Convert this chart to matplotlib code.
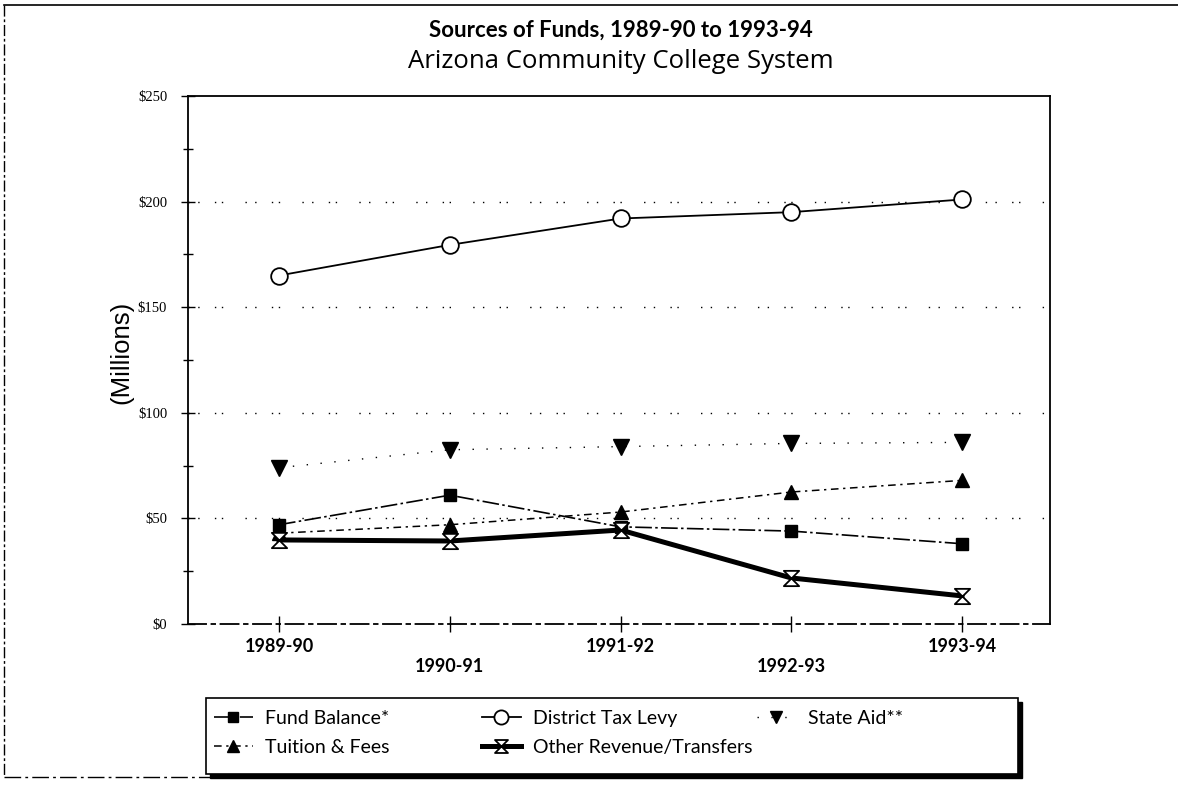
import matplotlib
matplotlib.use("Agg")
import matplotlib.pyplot as plt
from matplotlib.path import Path
from matplotlib.lines import Line2D
from matplotlib.patches import Rectangle
import numpy as np

years = ["1989-90", "1990-91", "1991-92", "1992-93", "1993-94"]
fund_balance = [47, 61, 46, 44, 38]
district_tax_levy = [165, 179.5, 192, 195, 201]
state_aid = [74, 82.5, 84, 85.5, 86]
tuition_fees = [43, 47, 53, 62.5, 68]
other_revenue = [39.8, 39.3, 44.5, 21.8, 13.3]

y_ticks = [0, 50, 100, 150, 200, 250]
y_tick_labels = ["$0", "$50", "$100", "$150", "$200", "$250"]

HUM = ["Lato", "DejaVu Sans"]

W, H = 1178, 789
fig = plt.figure(figsize=(W / 100, H / 100), dpi=100)
ax = fig.add_axes([188 / W, 1 - 624 / H, (1050 - 188) / W, (624 - 96) / H])

x = np.arange(len(years))

hourglass = Path([(-1, 1), (1, 1), (-1, -1), (1, -1), (-1, 1)],
                 [Path.MOVETO, Path.LINETO, Path.LINETO, Path.LINETO, Path.CLOSEPOLY])

# sparse dotted gridlines
for gy in [50, 100, 150, 200]:
    ax.axhline(gy, color="black", lw=1.0, ls=(0, (1, 6, 1, 11, 1, 4, 1, 16)), zorder=1)

l_sa, = ax.plot(x, state_aid, color="black", lw=1.0, ls=(0, (1, 9)), marker="v",
                markersize=11, markerfacecolor="black", markeredgecolor="black", zorder=3)
l_tf, = ax.plot(x, tuition_fees, color="black", lw=1.1, ls=(0, (5, 3, 1.5, 3)), marker="^",
                markersize=10, markerfacecolor="black", markeredgecolor="black", zorder=3)
l_dt, = ax.plot(x, district_tax_levy, color="black", lw=1.3, ls="-", marker="o",
                markersize=12, markerfacecolor="white", markeredgecolor="black",
                markeredgewidth=1.3, zorder=4)
l_fb, = ax.plot(x, fund_balance, color="black", lw=1.2, ls=(0, (10, 2, 1.5, 2)), marker="s",
                markersize=9, markerfacecolor="black", markeredgecolor="black", zorder=4)
l_or, = ax.plot(x, other_revenue, color="black", lw=3.6, ls="-", marker=hourglass,
                markersize=11, markerfacecolor="white", markeredgecolor="black",
                markeredgewidth=1.3, zorder=5)

ax.set_xlim(-0.533, 4.515)
ax.set_ylim(0, 250)

ax.set_yticks(y_ticks)
ax.set_yticklabels(y_tick_labels, family=["Liberation Serif", "DejaVu Serif"], fontsize=10.5)
ax.set_yticks(np.arange(25, 250, 50), minor=True)
ax.tick_params(axis="y", which="major", direction="inout", length=10, width=1, pad=10)
ax.tick_params(axis="y", which="minor", direction="inout", length=7, width=1)

ax.set_xticks(x)
ax.set_xticklabels([y if i % 2 == 0 else "\n" + y for i, y in enumerate(years)],
                   family=HUM, fontweight="bold", fontsize=13, linespacing=1.2)
ax.tick_params(axis="x", which="major", direction="inout", length=12, width=1, pad=4)

for s in ["left", "top", "right"]:
    ax.spines[s].set_linewidth(1.3)
ax.spines["bottom"].set_linestyle((0, (10, 3, 2, 3)))
ax.spines["bottom"].set_linewidth(1.3)

fig.text(121 / W, 1 - 352 / H, "(Millions)", rotation=90, ha="center", va="center",
         family=["Liberation Sans", "DejaVu Sans"], fontsize=18.5)

fig.text(621 / W, 1 - 30 / H, "Sources of Funds, 1989-90 to 1993-94", ha="center",
         va="center", family=HUM, fontweight="bold", fontsize=16)
fig.text(621 / W, 1 - 61 / H, "Arizona Community College System", ha="center",
         va="center", family=["Open Sans", "DejaVu Sans"], fontsize=18.5)

# legend box with heavy shadow
lx0, lx1, ly0, ly1 = 206, 1018, 698, 774
fig.add_artist(Rectangle(((lx0 + 4) / W, 1 - (ly1 + 4) / H), (lx1 - lx0) / W, (ly1 - ly0) / H,
                         transform=fig.transFigure, facecolor="black", edgecolor="black", zorder=8))
fig.add_artist(Rectangle((lx0 / W, 1 - ly1 / H), (lx1 - lx0) / W, (ly1 - ly0) / H,
                         transform=fig.transFigure, facecolor="white", edgecolor="black",
                         lw=1.2, zorder=9))

columns = [
    ([l_fb, l_tf], ["Fund Balance*", "Tuition & Fees"], 214),
    ([l_dt, l_or], ["District Tax Levy", "Other Revenue/Transfers"], 482),
    ([l_sa], ["State Aid**"], 757),
]
for handles, labels, cx in columns:
    lg = fig.legend(handles, labels, loc="upper left", bbox_to_anchor=(cx / W, 1 - 710 / H),
                    frameon=False, prop={"family": HUM, "size": 14}, handlelength=2.0,
                    handletextpad=0.6, labelspacing=0.62, borderpad=0, borderaxespad=0,
                    markerscale=0.85)
    lg.set_zorder(10)

# outer page border
fig.add_artist(Line2D([4 / W, 1.0], [1 - 5 / H, 1 - 5 / H], transform=fig.transFigure,
                      color="black", lw=1.2))
fig.add_artist(Line2D([4 / W, 4 / W], [1 - 5 / H, 1 - 777 / H], transform=fig.transFigure,
                      color="black", lw=1.0, ls=(0, (8, 2, 2, 2))))
fig.add_artist(Line2D([4 / W, 320 / W], [1 - 777 / H, 1 - 777 / H], transform=fig.transFigure,
                      color="black", lw=1.0, ls=(0, (12, 3, 2, 3))))

fig.savefig("out.png", dpi=100)
